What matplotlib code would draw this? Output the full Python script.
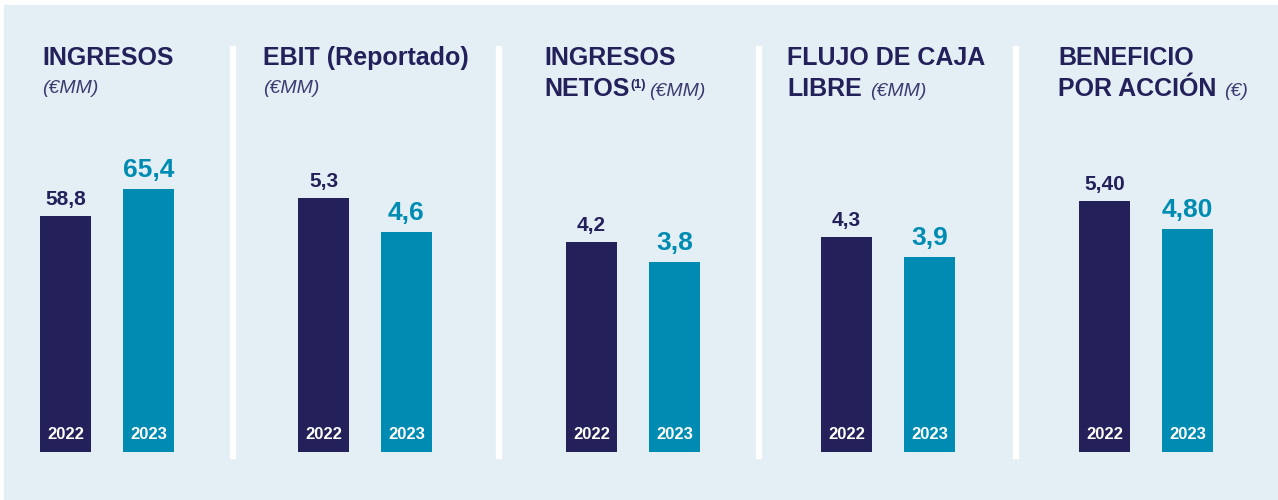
import matplotlib
matplotlib.use("Agg")
import matplotlib.pyplot as plt
from matplotlib.patches import Rectangle

plt.rcParams['font.family'] = ['Liberation Sans', 'DejaVu Sans']

# data
years = ["2022", "2023"]
values_2022 = [58.8, 5.3, 4.2, 4.3, 5.40]
values_2023 = [65.4, 4.6, 3.8, 3.9, 4.80]
decimals = [1, 1, 1, 1, 2]
title_line1 = ["INGRESOS", "EBIT (Reportado)", "INGRESOS", "FLUJO DE CAJA", "BENEFICIO"]
title_line2 = ["", "", "NETOS", "LIBRE", "POR ACCIÓN"]
title_sup = ["", "", "(1)", "", ""]
units = ["(€MM)", "(€MM)", "(€MM)", "(€MM)", "(€)"]

# layout (pixels)
W, H = 1278, 500
NAVY = "#24215a"
TEAL = "#008cb2"
BG = "#e4eef5"
UNIT_C = "#3c3b6e"
panel_x = [42, 263, 544, 787, 1058]
bar_left = [40, 298, 566, 821, 1079]
y_top = [75.1, 6.31, 6.05, 6.04, 6.5]
separators = [230, 496, 756, 1013]
bar_w = 51
bar_gap = 83
ax_top, ax_bottom = 150, 452


def fx(x):
    return x / W


def fy(y):
    return 1 - y / H


fig = plt.figure(figsize=(W / 100, H / 100), dpi=100, facecolor="white")
fig.patches.append(Rectangle((fx(4), 0), 1 - fx(4), fy(5), transform=fig.transFigure,
                             color=BG, zorder=-2))
for sx in separators:
    fig.patches.append(Rectangle((fx(sx), fy(458)), fx(5), fy(46) - fy(458),
                                 transform=fig.transFigure, color="white", zorder=-1))

renderer = fig.canvas.get_renderer()


def draw_line(x, y, pieces):
    # pieces: (text, fontsize, weight, style, color, dy, gap_after)
    for text, size, weight, style, color, dy, gap in pieces:
        t = fig.text(fx(x), fy(y - dy), text, fontsize=size, fontweight=weight,
                     fontstyle=style, color=color, ha="left", va="baseline")
        x += t.get_window_extent(renderer).width + gap


unit = lambda s: (s, 14, "normal", "italic", UNIT_C, 0, 0)

for i in range(5):
    px = panel_x[i]
    draw_line(px, 65, [(title_line1[i], 18, "bold", "normal", NAVY, 0, 0)])
    if title_line2[i]:
        if title_sup[i]:
            line = [(title_line2[i], 18, "bold", "normal", NAVY, 0, 1),
                    (title_sup[i], 9, "bold", "normal", NAVY, 8, 3)]
        else:
            line = [(title_line2[i], 18, "bold", "normal", NAVY, 0, 8)]
        line.append(unit(units[i]))
        draw_line(px, 96, line)
    else:
        draw_line(px, 93, [unit(units[i])])

    ax = fig.add_axes([fx(bar_left[i]), fy(ax_bottom), fx(bar_gap + bar_w),
                       fy(ax_top) - fy(ax_bottom)])
    ax.set_zorder(2)
    ax.set_axis_off()
    w = bar_w / bar_gap
    vals = [values_2022[i], values_2023[i]]
    ax.bar([0, 1], vals, width=w, color=[NAVY, TEAL])
    ax.set_xlim(-w / 2, 1 + w / 2)
    ax.set_ylim(0, y_top[i])
    for k, v in enumerate(vals):
        lbl = f"{v:.{decimals[i]}f}".replace(".", ",")
        ax.annotate(lbl, (k, v), xytext=(0, 11 if k == 0 else 12),
                    textcoords="offset pixels", ha="center", va="baseline",
                    fontsize=15 if k == 0 else 19, fontweight="bold",
                    color=NAVY if k == 0 else TEAL, annotation_clip=False)
        ax.annotate(years[k], (k, 0), xytext=(0, 13), textcoords="offset pixels",
                    ha="center", va="baseline", fontsize=12, fontweight="bold",
                    color="white")

fig.savefig("out.png", dpi=100, facecolor="white")
